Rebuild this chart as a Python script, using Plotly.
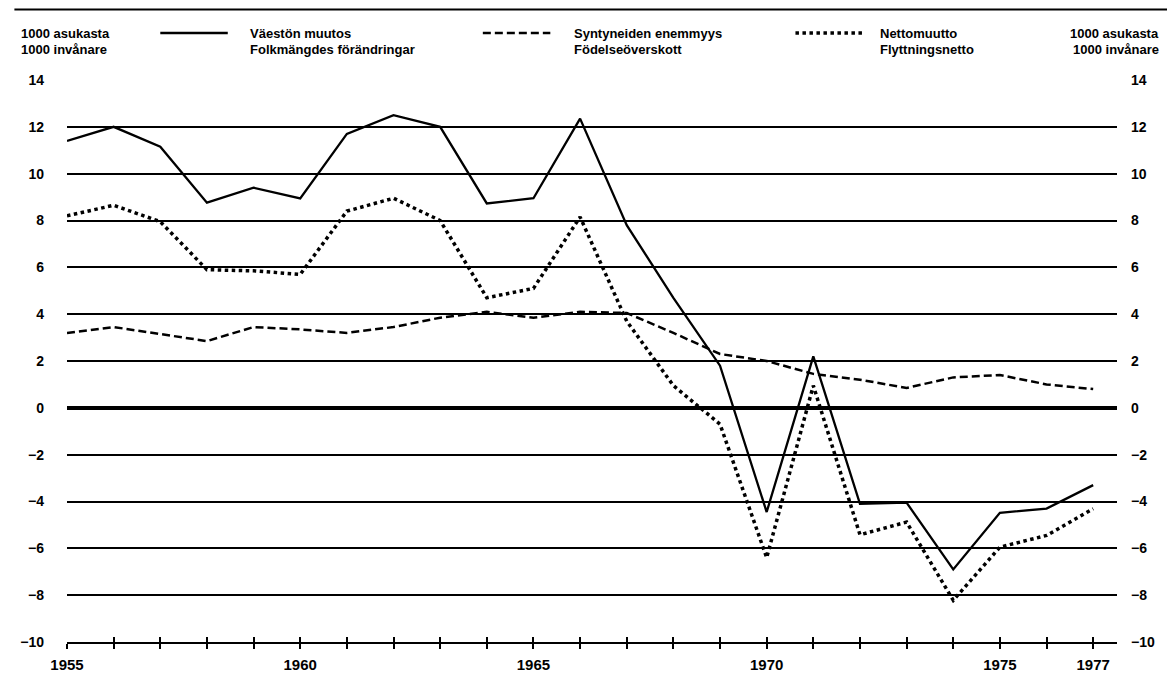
import plotly.graph_objects as go

years = list(range(1955, 1978))

# Väestön muutos / Folkmängdes förändringar (per 1000)
vaeston_muutos = [11.4, 12.0, 11.15, 8.76, 9.4, 8.94, 11.7, 12.5, 12.0, 8.73, 8.95,
                  12.35, 7.8, 4.7, 1.8, -4.45, 2.2, -4.1, -4.05, -6.9, -4.48, -4.3, -3.3]
# Syntyneiden enemmyys / Födelseöverskott
syntyneiden_enemmyys = [3.2, 3.45, 3.15, 2.85, 3.45, 3.35, 3.2, 3.45, 3.85, 4.1, 3.85,
                        4.1, 4.05, 3.2, 2.3, 2.0, 1.45, 1.2, 0.85, 1.3, 1.4, 1.0, 0.8]
# Nettomuutto / Flyttningsnetto
nettomuutto = [8.2, 8.65, 7.95, 5.9, 5.85, 5.7, 8.4, 8.95, 8.0, 4.7, 5.1,
               8.15, 3.7, 0.95, -0.7, -6.4, 0.95, -5.42, -4.88, -8.22, -5.95, -5.45, -4.31]

labelled_years = [1955, 1960, 1965, 1970, 1975, 1977]
y_ticks = list(range(-10, 16, 2))

FONT = "Liberation Sans, Arial, sans-serif"

# the page body adds an 8px margin, so figure coords = screen coords - 8
OFF = 8
W, H = 1159, 684
L, R, T, B = 61 - OFF, 1119 - OFF, 80 - OFF, 642 - OFF


def px_x(sx):
    return (sx - OFF - L) / (R - L)


def px_y(sy):
    return (B - (sy - OFF)) / (B - T)


fig = go.Figure()
fig.add_trace(go.Scatter(x=years, y=syntyneiden_enemmyys, mode="lines",
                         line=dict(color="black", width=2.5, dash="8px,4px")))
fig.add_trace(go.Scatter(x=years, y=nettomuutto, mode="lines",
                         line=dict(color="black", width=3.5, dash="dot")))
fig.add_trace(go.Scatter(x=years, y=vaeston_muutos, mode="lines",
                         line=dict(color="black", width=2.3)))
# invisible trace to activate the secondary axes
fig.add_trace(go.Scatter(x=years[:1], y=[0], mode="lines", xaxis="x2", yaxis="y2",
                         line=dict(width=0), hoverinfo="skip"))

x_end = 1955 + (R - L) / 47.0
tick_text = [str(y) if y in labelled_years else "" for y in years]
y_text = [str(v).replace("-", "−") for v in y_ticks]

fig.update_layout(
    width=W, height=H, autosize=False,
    margin=dict(l=L, r=W - R, t=T, b=H - B),
    paper_bgcolor="white", plot_bgcolor="white",
    showlegend=False,
    font=dict(family=FONT, color="black", size=14),
    xaxis=dict(range=[1955, x_end], tickvals=years, ticktext=tick_text,
               ticks="outside", ticklen=5, tickwidth=2, tickcolor="black",
               showline=True, linecolor="black", linewidth=2, showgrid=False,
               zeroline=False, ticklabelstandoff=3,
               tickfont=dict(family=FONT, size=15, weight="bold")),
    xaxis2=dict(range=[1955, x_end], overlaying="x", tickvals=years,
                showticklabels=False, ticks="inside", ticklen=5, tickwidth=2,
                tickcolor="black", showgrid=False, zeroline=False),
    yaxis=dict(range=[-10, 14], tickvals=y_ticks, ticktext=y_text,
               showgrid=True, gridcolor="black", gridwidth=2,
               zeroline=True, zerolinecolor="black", zerolinewidth=4,
               ticks="", ticklabelstandoff=22,
               tickfont=dict(family=FONT, size=14, weight="bold")),
    yaxis2=dict(range=[-10, 14], overlaying="y", side="right", tickvals=y_ticks,
                ticktext=y_text, showgrid=False, zeroline=False, ticks="",
                ticklabelstandoff=13,
                tickfont=dict(family=FONT, size=14, weight="bold")),
)

# top rule
fig.add_shape(type="line", xref="paper", yref="paper",
              x0=px_x(8), x1=px_x(1175), y0=px_y(9.5), y1=px_y(9.5),
              line=dict(color="black", width=2))

# legend samples
sample_y = px_y(33)
fig.add_shape(type="line", xref="paper", yref="paper", x0=px_x(155), x1=px_x(223),
              y0=sample_y, y1=sample_y, line=dict(color="black", width=2.3))
fig.add_shape(type="line", xref="paper", yref="paper", x0=px_x(480), x1=px_x(548),
              y0=sample_y, y1=sample_y, line=dict(color="black", width=2.5, dash="8px,4px"))
fig.add_shape(type="line", xref="paper", yref="paper", x0=px_x(795), x1=px_x(865),
              y0=sample_y, y1=sample_y, line=dict(color="black", width=3.5, dash="dot"))

header = [
    (13, "left", "1000 asukasta", "1000 invånare"),
    (243, "left", "Väestön muutos", "Folkmängdes förändringar"),
    (570, "left", "Syntyneiden enemmyys", "Födelseöverskott"),
    (878, "left", "Nettomuutto", "Flyttningsnetto"),
    (1163, "right", "1000 asukasta", "1000 invånare"),
]
for hx, anchor, line1, line2 in header:
    for hy, txt in ((33, line1), (49, line2)):
        fig.add_annotation(x=px_x(hx), y=px_y(hy), xref="paper", yref="paper",
                           text=txt, showarrow=False, xanchor=anchor, yanchor="middle",
                           font=dict(family=FONT, size=13, weight="bold", color="black"))

fig.write_html("out.html")
